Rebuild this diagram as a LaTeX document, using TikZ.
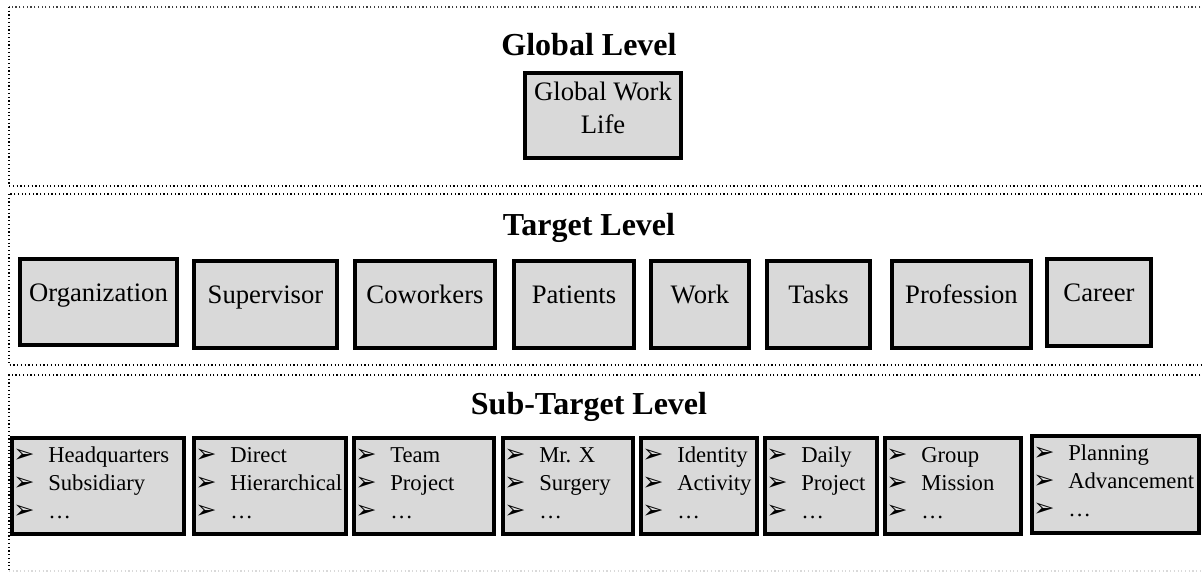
\documentclass[tikz,border=0pt]{standalone}
\usepackage{fontspec}
\setmainfont{Liberation Serif}
\newfontfamily\dejavu{DejaVu Sans}
\usetikzlibrary{fit}
\definecolor{boxgray}{HTML}{D9D9D9}
\tikzset{
 panel/.style={draw=black, line width=0.9pt, dash pattern=on 0.9pt off 1.9pt},
 box/.style={draw=black, fill=boxgray, line width=3pt, inner sep=0pt, outer sep=0pt},
 titletext/.style={font=\fontsize{24}{28}\selectfont\bfseries, anchor=base, inner sep=0pt},
 tlabel/.style={font=\fontsize{20}{24}\selectfont, anchor=base, inner sep=0pt},
 itemtext/.style={font=\fontsize{17}{20}\selectfont, anchor=base west, inner sep=0pt},
}
\newcommand\arrowbullet{\raisebox{-0.5pt}{\dejavu\fontsize{19}{19}\selectfont ➢}}
\newcommand\itm[1]{\makebox[26.25pt][l]{\arrowbullet}#1}
\newcommand\tgtbox[6]{%
 \node[box, fit={(#2+2,#3+2) (#4-2,#5-2)}] (#1) {};
 \node[tlabel] (#1t) at ({(#2+#4)/2}, #3+44) {#6};
}
\newcommand\subtgtbox[7]{%
 \node[box, fit={(#2+2,#3+2) (#4-2,#5-2)}] (#1) {};
 \node[itemtext] (#1a) at (#2+3, #3+26) {\itm{#6}};
 \node[itemtext] (#1b) at (#2+3, #3+54) {\itm{#7}};
 \node[itemtext] (#1c) at (#2+3, #3+82) {\itm{…}};
}
\begin{document}
\begin{tikzpicture}[x=0.75pt, y=-0.75pt]
\clip (0,0) rectangle (1202,572);
\fill[white] (0,0) rectangle (1202,572);
% panels
\draw[panel, draw=black!75] (1215,7) -- (9,7);
\draw[panel] (9,7) -- (9,186) -- (1215,186);
\draw[panel] (9,194) rectangle (1215,365);
\draw[panel] (1215,375) -- (9,375) -- (9,571);
\draw[panel, draw=black!15] (9,571) -- (1215,571);
% global level
\node[titletext] (gtitle) at (589,55) {Global Level};
\node[box, fit={(525,73) (681,158)}] (global) {};
\node[tlabel] (gw1) at (603,100) {Global Work};
\node[tlabel] (gw2) at (603,133) {Life};
% target level
\node[titletext] (ttitle) at (589,235) {Target Level};
\tgtbox{org}{18}{257}{179}{347}{Organization}
\tgtbox{sup}{192}{259}{339}{350}{Supervisor}
\tgtbox{cow}{353}{259}{497}{350}{Coworkers}
\tgtbox{pat}{512}{259}{636}{350}{Patients}
\tgtbox{wrk}{649}{259}{751}{350}{Work}
\tgtbox{tsk}{765}{259}{872}{350}{Tasks}
\tgtbox{prf}{890}{259}{1033}{350}{Profession}
\tgtbox{car}{1045}{257}{1153}{348}{Career}
% sub-target level
\node[titletext] (stitle) at (589,414) {Sub-Target Level};
\subtgtbox{sa}{10}{436}{186}{536}{Headquarters}{Subsidiary}
\subtgtbox{sb}{192}{436}{348}{536}{Direct}{Hierarchical}
\subtgtbox{sc}{352}{436}{496}{536}{Team}{Project}
\subtgtbox{sd}{501}{436}{635}{536}{Mr. X}{Surgery}
\subtgtbox{se}{639}{436}{759}{536}{Identity}{Activity}
\subtgtbox{sf}{763}{436}{879}{536}{Daily}{Project}
\subtgtbox{sg}{883}{436}{1023}{536}{Group}{Mission}
\subtgtbox{sh}{1030}{434}{1201}{535}{Planning}{Advancement}
\end{tikzpicture}
\end{document}
